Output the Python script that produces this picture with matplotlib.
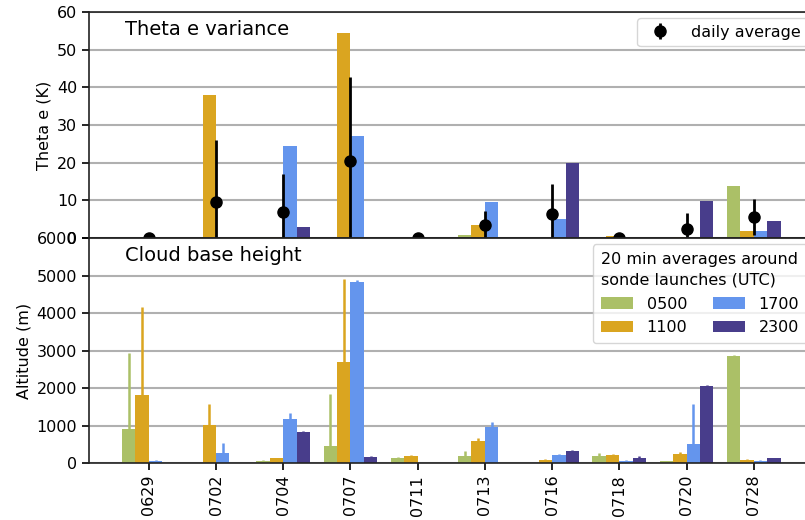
import numpy as np
import matplotlib.pyplot as plt

days = ['0629', '0702', '0704', '0707', '0711', '0713', '0716', '0718', '0720', '0728']
launches = ['0500', '1100', '1700', '2300']
colors = ['#abc067', '#daa520', '#6495ed', '#483d8b']

# theta e variance per launch (K)
theta_0500 = [0, 0, 0.2, 0, 0, 0.8, 0, 0, 0, 13.7]
theta_1100 = [0, 38.0, 0.3, 54.3, 0, 3.5, 0, 0.5, 0.3, 1.95]
theta_1700 = [0, 0, 24.3, 27.0, 0, 9.5, 5.1, 0, 0, 1.95]
theta_2300 = [0, 0, 2.8, 0, 0, 0, 19.9, 0, 9.7, 4.5]

# cloud base height (m) and its spread
cbh_0500 = [904, 0, 62, 461, 142, 177, 0, 177, 44, 2846]
cbh_1100 = [1817, 1002, 124, 2686, 195, 594, 80, 204, 230, 89]
cbh_1700 = [62, 275, 1170, 4832, 0, 966, 204, 62, 514, 62]
cbh_2300 = [0, 0, 833, 160, 0, 0, 328, 142, 2057, 124]

cbh_err_0500 = [2021, 0, 18, 1383, 18, 133, 0, 98, 18, 26]
cbh_err_1100 = [2332, 567, 18, 2208, 18, 62, 18, 44, 63, 17]
cbh_err_1700 = [18, 257, 151, 35, 0, 124, 26, 18, 1064, 18]
cbh_err_2300 = [0, 0, 18, 26, 0, 0, 27, 44, 17, 18]

theta = np.array([theta_0500, theta_1100, theta_1700, theta_2300])
cbh = np.array([cbh_0500, cbh_1100, cbh_1700, cbh_2300])
cbh_err = np.array([cbh_err_0500, cbh_err_1100, cbh_err_1700, cbh_err_2300])

daily_mean = theta.mean(axis=0)
daily_std = theta.std(axis=0)

plt.rcParams['font.size'] = 11.5

fig = plt.figure(figsize=(8.05, 5.2), dpi=100)
ax1 = fig.add_axes([0.1106, 0.5423, 0.9, 0.4347])
ax2 = fig.add_axes([0.1106, 0.1096, 0.9, 0.4327], sharex=ax1)

x = np.arange(len(days))
w = 0.2

for i in range(len(launches)):
    ax1.bar(x + (i - 2) * w, theta[i], w, align='edge', color=colors[i], zorder=2)
    ax2.bar(x + (i - 2) * w, cbh[i], w, align='edge', color=colors[i],
            label=launches[i], zorder=2)
    err = np.vstack([np.zeros(len(days)), cbh_err[i]])
    ax2.errorbar(x + (i - 1.5) * w, cbh[i], yerr=err, fmt='none',
                 ecolor=colors[i], elinewidth=1.8, zorder=2)

ax1.errorbar(x, daily_mean, yerr=daily_std, fmt='o', color='k', ms=8,
             elinewidth=2, label='daily average', zorder=3)

for ax in (ax1, ax2):
    ax.grid(axis='y', color='#b0b0b0', lw=1.5)
    ax.set_axisbelow(True)
    ax.tick_params(length=5, width=1.2)
    for s in ax.spines.values():
        s.set_linewidth(1.2)
        s.set_color('#222222')

ax1.set_ylim(0, 60)
ax1.set_yticks(range(0, 61, 10))
ax1.tick_params(axis='x', bottom=False, labelbottom=False)
ax1.set_ylabel('Theta e (K)')
ax1.text(0.05, 0.965, 'Theta e variance', transform=ax1.transAxes, fontsize=14,
         va='top')
ax1.legend(loc='upper right', borderaxespad=0.4, handletextpad=0.95, fancybox=True)

ax2.set_ylim(0, 6000)
ax2.set_yticks(range(0, 6001, 1000))
ax2.set_xticks(x)
ax2.set_xticklabels(days, rotation=90)
ax2.set_ylabel('Altitude (m)')
ax2.text(0.05, 0.965, 'Cloud base height', transform=ax2.transAxes, fontsize=14,
         va='top')
leg = ax2.legend(title='20 min averages around\nsonde launches (UTC)', ncol=2,
                 loc='upper right', borderaxespad=0.4, columnspacing=1.6,
                 handletextpad=0.85, labelspacing=0.55, borderpad=0.5,
                 title_fontsize=11.5, alignment='left')
leg.get_title().set_linespacing(1.45)

fig.savefig('out.png', dpi=100)
